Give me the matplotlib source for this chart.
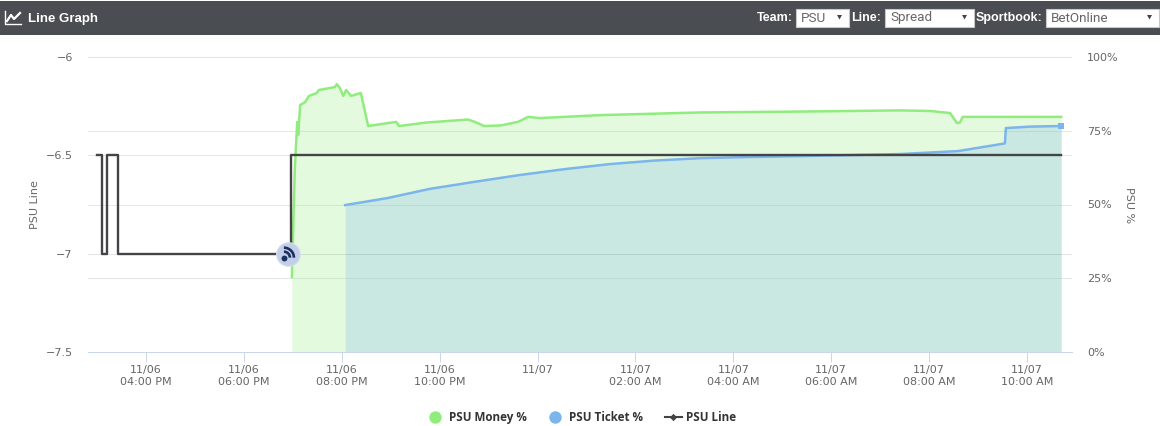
import matplotlib
matplotlib.use('Agg')
import matplotlib.pyplot as plt
from matplotlib.patches import Rectangle, Arc, Polygon

# hours after 11/06 04:00 PM
money_hours = [2.98, 3.04, 3.09, 3.11, 3.15, 3.25, 3.33, 3.49, 3.53, 3.86, 3.90, 3.96, 4.03, 4.09, 4.19,
               4.39, 4.54, 5.11, 5.17, 5.74, 6.58, 6.72, 6.91, 7.25, 7.60, 7.81, 8.05, 9.28, 11.32, 13.36, 15.41,
               16.02, 16.43, 16.50, 16.57, 16.63, 16.69, 18.70]
money_pct = [25.4, 61.7, 78.0, 73.6, 83.7, 84.7, 86.8, 87.8, 88.8, 89.8, 90.8, 89.5, 86.8, 88.8, 86.8,
             87.8, 76.6, 78.0, 76.6, 77.8, 78.8, 78.0, 76.6, 76.8, 78.0, 79.7, 79.3, 80.3, 81.2, 81.5, 81.9,
             81.7, 81.0, 79.3, 77.6, 77.8, 79.7, 79.7]
ticket_hours = [4.07, 4.94, 5.80, 6.72, 7.64, 8.56, 9.48, 10.40, 11.32, 12.34, 13.36, 15.41, 16.59, 17.55, 17.57, 18.06, 18.70]
ticket_pct = [49.8, 52.2, 55.3, 57.7, 60.0, 62.0, 63.7, 64.9, 65.7, 66.1, 66.4, 67.1, 68.1, 70.7, 75.9, 76.4, 76.6]
line_hours = [-1.00, -0.90, -0.80, -0.57, 2.96, 18.70]
line_values = [-6.5, -7.0, -6.5, -7.0, -6.5, -6.5]
news_hour = 2.90
news_line = -7.0

tick_hours = [0, 2, 4, 6, 8, 10, 12, 14, 16, 18]
tick_labels = ['11/06\n04:00 PM', '11/06\n06:00 PM', '11/06\n08:00 PM', '11/06\n10:00 PM', '11/07',
               '11/07\n02:00 AM', '11/07\n04:00 AM', '11/07\n06:00 AM', '11/07\n08:00 AM', '11/07\n10:00 AM']
line_ticks = [-7.5, -7, -6.5, -6]
line_tick_labels = ['\u22127.5', '\u22127', '\u22126.5', '\u22126']
pct_ticks = [0, 25, 50, 75, 100]
pct_tick_labels = ['0%', '25%', '50%', '75%', '100%']

GREEN = '#90ed7d'
BLUE = '#7cb5ec'
DARK = '#434348'
AXIS = '#ccd6eb'
TEXT = '#666666'
HEADER = '#4a4d52'

W, H = 1160, 426
fig = plt.figure(figsize=(W / 100, H / 100), dpi=100)

pos = [88 / W, (H - 352) / H, 984 / W, 295 / H]
ax = fig.add_axes(pos)
ax2 = ax.twinx()
ax.set_zorder(ax2.get_zorder() + 1)
ax.patch.set_visible(False)

# right axis: money and ticket areas
ax2.fill_between(money_hours, money_pct, 0, color=GREEN, alpha=0.25, lw=0)
ax2.fill_between(ticket_hours, ticket_pct, 0, color=BLUE, alpha=0.25, lw=0)
ax2.plot(money_hours, money_pct, color=GREEN, lw=1.8)
ax2.plot(ticket_hours, ticket_pct, color=BLUE, lw=1.8)
ax2.scatter(ticket_hours[-1:], ticket_pct[-1:], color=BLUE, s=14, marker='s', zorder=5, lw=0)

# left axis: the spread
ax.plot(line_hours, line_values, drawstyle='steps-post', color=DARK, lw=1.7)

ax.set_xlim((88 - 146) / 48.94, (1072 - 146) / 48.94)
ax.set_ylim(-7.5, -6)
ax2.set_ylim(0, 100)

ax.set_xticks(tick_hours)
ax.set_xticklabels(tick_labels, fontsize=8, color=TEXT, linespacing=1.3)
ax.set_yticks(line_ticks)
ax.set_yticklabels(line_tick_labels, fontsize=8, color=TEXT)
ax2.set_yticks(pct_ticks)
ax2.set_yticklabels(pct_tick_labels, fontsize=8, color=TEXT)
ax.tick_params(axis='x', length=7.2, width=0.72, color=AXIS, pad=2)
ax.tick_params(axis='y', length=0, pad=11)
ax2.tick_params(axis='y', length=0, pad=11)
# see-through grid so it shows over the fills like the original
ax.grid(axis='y', color='black', alpha=0.1, lw=0.72)
ax2.grid(axis='y', color='black', alpha=0.1, lw=0.72)
ax.set_axisbelow(True)
ax2.set_axisbelow(True)
# top and bottom lines are shared by both axes, keep one of each
ax.get_ygridlines()[0].set_visible(False)
ax.get_ygridlines()[-1].set_visible(False)
for a in (ax, ax2):
    for s in a.spines.values():
        s.set_visible(False)
    a.spines['bottom'].set_visible(True)
    a.spines['bottom'].set_color(AXIS)
    a.spines['bottom'].set_linewidth(0.72)

# overlay in pixels for the header, legend and news icon
ov = fig.add_axes([0, 0, 1, 1], zorder=10)
ov.set_xlim(0, W)
ov.set_ylim(H, 0)
ov.axis('off')

ov.text(35, 205, 'PSU Line', rotation=90, ha='center', va='center', fontsize=8, color=TEXT)
ov.text(1129, 205, 'PSU %', rotation=270, ha='center', va='center', fontsize=8, color=TEXT)

# header bar
ov.add_patch(Rectangle((0, 1), W, 34, color=HEADER, lw=0))
ov.plot([5, 5, 21], [11, 24, 24], color='white', lw=1)
ov.plot([7, 11, 14, 20], [21, 15, 19, 13], color='white', lw=1.6)
ov.text(28, 19, 'Line Graph', color='white', fontsize=9.5, family='Liberation Sans', va='center',
        fontweight='bold')


def select(x0, x1, label, lab_right, value):
    ov.text(lab_right, 18, label, color='white', fontsize=9, fontweight='bold', family='Liberation Sans',
            ha='right', va='center')
    ov.add_patch(Rectangle((x0, 8.5), x1 - x0, 18, facecolor='white', edgecolor='#c8c8c8', lw=0.8))
    ov.text(x0 + 5, 18, value, color='#666666', fontsize=9.7, family='Roboto', va='center')
    ov.add_patch(Polygon([(x1 - 12, 15), (x1 - 7, 15), (x1 - 9.5, 19.5)], color='#444444', lw=0))


select(796, 849, 'Team:', 793, 'PSU')
select(885, 974, 'Line:', 881, 'Spread')
select(1046, 1159, 'Sportbook:', 1042, 'BetOnline')

# news icon on the line
nx, ny = ov.transData.inverted().transform(ax.transData.transform((news_hour, news_line)))
ov.scatter([nx], [ny], s=290, color='#c3cfe8', edgecolor='#d8e0f0', lw=0.8, zorder=3)
ov.scatter([nx - 4], [ny + 4], s=18, color='#1d2f5f', lw=0, zorder=4)
ov.add_patch(Arc((nx - 4, ny + 4), 12, 12, theta1=270, theta2=360, color='#1d2f5f', lw=1.9, zorder=4))
ov.add_patch(Arc((nx - 4, ny + 4), 20, 20, theta1=270, theta2=360, color='#1d2f5f', lw=1.9, zorder=4))

# legend
ov.scatter([435], [417], s=80, color=GREEN, lw=0)
ov.text(449, 417.5, 'PSU Money %', fontsize=8.4, fontweight='bold', family='Open Sans', color='#333333', va='center')
ov.scatter([555], [417], s=80, color=BLUE, lw=0)
ov.text(569, 417.5, 'PSU Ticket %', fontsize=8.4, fontweight='bold', family='Open Sans', color='#333333', va='center')
ov.plot([665, 682], [417, 417], color=DARK, lw=1.5)
ov.scatter([673], [417], s=14, marker='D', color=DARK, lw=0)
ov.text(686, 417.5, 'PSU Line', fontsize=8.4, fontweight='bold', family='Open Sans', color='#333333', va='center')

fig.savefig('out.png', dpi=100)
